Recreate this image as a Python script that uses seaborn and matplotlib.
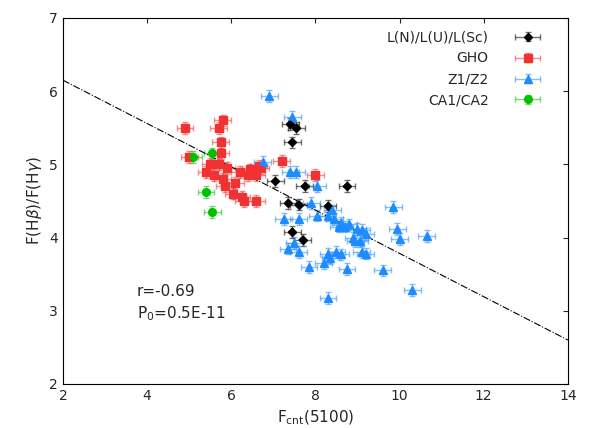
import matplotlib
matplotlib.use("Agg")
import matplotlib.pyplot as plt
import seaborn as sns
import numpy as np
from matplotlib.colors import to_rgba

lx = [7.4,7.55,7.45,8.75,7.75,7.05,7.6,8.3,7.35,7.45,7.7]
ly = [5.55,5.5,5.3,4.7,4.7,4.77,4.45,4.43,4.47,4.08,3.97]
gx = [4.9,5.8,5.7,5.75,5.75,5.0,5.5,5.7,5.9,6.45,6.65,7.2,8.0,5.6,5.4,6.1,6.4,5.85,6.25,6.05,6.6,6.7,5.8,6.3,6.6,6.2]
gy = [5.5,5.6,5.5,5.3,5.15,5.1,5.0,5.0,4.95,4.93,4.98,5.05,4.85,4.85,4.9,4.75,4.85,4.7,4.55,4.6,4.85,4.95,4.8,4.5,4.5,4.9]
zx = [6.9,7.45,6.75,7.4,7.55,8.05,7.9,9.85,7.25,7.6,8.05,8.3,8.45,8.6,8.7,8.8,9.0,9.1,9.2,9.95,10.65,8.9,9.05,10.0,7.5,8.95,7.35,7.6,8.3,8.5,8.6,9.1,9.2,8.35,8.2,7.85,8.75,9.6,10.3,8.3,8.4,8.55]
zy = [5.93,5.65,5.03,4.9,4.9,4.7,4.47,4.42,4.25,4.25,4.3,4.3,4.25,4.2,4.15,4.18,4.12,4.1,4.05,4.12,4.02,4.0,3.95,3.98,3.93,3.95,3.85,3.8,3.78,3.8,3.77,3.8,3.78,3.72,3.65,3.6,3.57,3.55,3.28,3.17,4.37,4.15]
cx = [5.1,5.55,5.4,5.55]
cy = [5.1,5.15,4.62,4.35]

sns.set_style("white")
plt.rcParams['font.family'] = ['DejaVu Sans']
fig, ax = plt.subplots(figsize=(5.99, 4.28), dpi=100)
fig.subplots_adjust(left=0.105, right=0.948, top=0.958, bottom=0.103)

groups = [
    (lx, ly, 'L(N)/L(U)/L(Sc)', 'black', 'D', 4.5),
    (gx, gy, 'GHO', '#f03232', 's', 5.5),
    (zx, zy, 'Z1/Z2', '#1e8cff', '^', 5.5),
    (cx, cy, 'CA1/CA2', '#00c000', 'o', 5.5),
]
for x, y, lab, col, m, ms in groups:
    ec = to_rgba(col, 0.55)
    ax.errorbar(x, y, xerr=0.2, yerr=0.08, fmt=m, color=col, ms=ms, ecolor=ec,
                elinewidth=1, capsize=2, label=lab)
    sns.scatterplot(x=x, y=y, marker=m, color=col, s=ms**2, edgecolor='none', ax=ax, zorder=3)

xl = np.array([2, 14])
ax.plot(xl, 6.15 + (2.6 - 6.15) / 12 * (xl - 2), color='black', lw=0.8, ls='-.')

ax.text(3.75, 3.2, 'r=-0.69', fontsize=11)
ax.text(3.75, 2.9, r'P$_0$=0.5E-11', fontsize=11)

ax.set_xlim(2, 14)
ax.set_ylim(2, 7)
ax.set_xticks(range(2, 15, 2))
ax.set_yticks(range(2, 8))
ax.tick_params(direction='in', top=True, right=True, labelsize=10)
for s in ax.spines.values():
    s.set_color('black'); s.set_linewidth(0.8)
ax.set_xlabel(r'F$_{\rm cnt}$(5100)', fontsize=11)
ax.set_ylabel(r'F(H$\beta$)/F(H$\gamma$)', fontsize=11)
from matplotlib.legend_handler import HandlerErrorbar
ax.legend(loc='upper right', markerfirst=False, frameon=False, fontsize=10, handlelength=4,
          handler_map={matplotlib.container.ErrorbarContainer: HandlerErrorbar(xerr_size=0.9, yerr_size=0.3)})
fig.savefig('out.png')
